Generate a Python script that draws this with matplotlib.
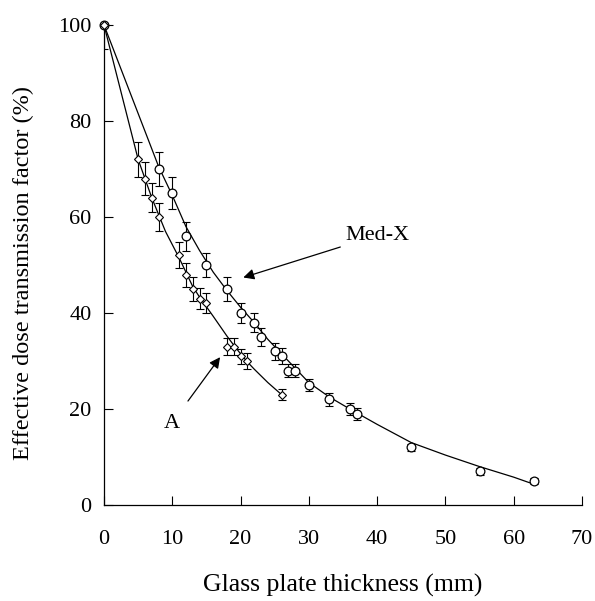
import matplotlib
matplotlib.use("Agg")
import matplotlib.pyplot as plt

# ── Data ──────────────────────────────────────────────────────────────────────
medx_x   = [0, 8, 10, 12, 15, 18, 20, 22, 23, 25, 26, 27, 28, 30, 33, 36, 37, 45, 55, 63]
medx_y   = [100, 70, 65, 56, 50, 45, 40, 38, 35, 32, 31, 28, 28, 25, 22, 20, 19, 12, 7, 5]
medx_err = [5, 3.5, 3.3, 3.0, 2.6, 2.4, 2.1, 1.9, 1.8, 1.7, 1.7, 1.3, 1.3, 1.3, 1.3, 1.2, 1.2, 0.8, 0.8, 0.6]

a_x   = [0, 5, 6, 7, 8, 11, 12, 13, 14, 15, 18, 19, 20, 21, 26]
a_y   = [100, 72, 68, 64, 60, 52, 48, 45, 43, 42, 33, 33, 31, 30, 23]
a_err = [0, 3.6, 3.5, 3.0, 3.0, 2.7, 2.5, 2.4, 2.2, 2.1, 1.8, 1.8, 1.6, 1.6, 1.2]

# fitted curves as drawn in the figure
medx_fit_x = [0, 8, 10, 12, 14, 16, 18, 20, 22, 24, 26, 28, 30, 33, 36, 40, 45, 50, 55, 60, 63]
medx_fit_y = [100, 70.5, 64.5, 58.0, 53.0, 48.5, 44.7, 41.2, 38.0, 34.5, 31.5, 28.5, 25.5,
              22.5, 20.0, 16.8, 13.0, 10.4, 8.0, 5.8, 4.3]
a_fit_x = [0, 5, 6, 7, 8, 9, 11, 12, 13, 14, 15, 16, 18, 19, 20, 21, 22, 24, 26]
a_fit_y = [100, 72, 68, 64, 60.5, 57, 51.5, 48.5, 45.5, 43.3, 41.3, 39.3, 35.2, 33.3,
           31.5, 29.8, 28.3, 25.5, 23]

x_ticks = [0, 10, 20, 30, 40, 50, 60, 70]
y_ticks = [0, 20, 40, 60, 80, 100]

plt.rcParams["font.family"] = ["Liberation Serif", "DejaVu Serif"]
FS = 16

fig = plt.figure(figsize=(5.95, 6.01), dpi=100)
ax = fig.add_axes([104 / 595, 96 / 601, 478 / 595, 480 / 601])

ax.plot(medx_fit_x, medx_fit_y, color="black", lw=0.9, zorder=2)
ax.plot(a_fit_x, a_fit_y, color="black", lw=0.9, zorder=2)

ax.errorbar(medx_x, medx_y, yerr=medx_err, fmt="none", ecolor="black",
            elinewidth=0.8, capsize=2.6, capthick=0.8, zorder=3)
ax.errorbar(a_x, a_y, yerr=a_err, fmt="none", ecolor="black",
            elinewidth=0.8, capsize=2.6, capthick=0.8, zorder=3)
ax.plot(medx_x, medx_y, ls="none", marker="o", ms=6.3, mfc="white", mec="black",
        mew=0.9, zorder=4, clip_on=False)
ax.plot(a_x, a_y, ls="none", marker="D", ms=4.2, mfc="white", mec="black",
        mew=0.8, zorder=4, clip_on=False)

# labels with arrows
ax.annotate("Med-X", xy=(20.4, 47.4), xytext=(35.4, 56.2), fontsize=FS,
            ha="left", va="center",
            arrowprops=dict(arrowstyle="-|>", color="black", lw=0.9,
                            mutation_scale=16, shrinkA=2, shrinkB=0))
ax.annotate("A", xy=(17.0, 30.8), xytext=(9.9, 17.0), fontsize=FS,
            ha="center", va="center",
            arrowprops=dict(arrowstyle="-|>", color="black", lw=0.9,
                            mutation_scale=16, shrinkA=9, shrinkB=0))

ax.set_xlim(0, 70)
ax.set_ylim(0, 100)
ax.set_xticks(x_ticks)
ax.set_yticks(y_ticks)
ax.spines["top"].set_visible(False)
ax.spines["right"].set_visible(False)
for s in ("left", "bottom"):
    ax.spines[s].set_linewidth(0.9)
ax.tick_params(axis="x", direction="in", length=6.5, width=0.8, labelsize=FS, pad=18)
ax.tick_params(axis="y", direction="in", length=6.5, width=0.8, labelsize=FS, pad=9)

ax.set_xlabel("Glass plate thickness (mm)", fontsize=18.5, labelpad=18)
ax.set_ylabel("Effective dose transmission factor (%)", fontsize=17.5)
ax.yaxis.set_label_coords(-0.146, 0.483)

fig.savefig("out.png", dpi=100, facecolor="white")
